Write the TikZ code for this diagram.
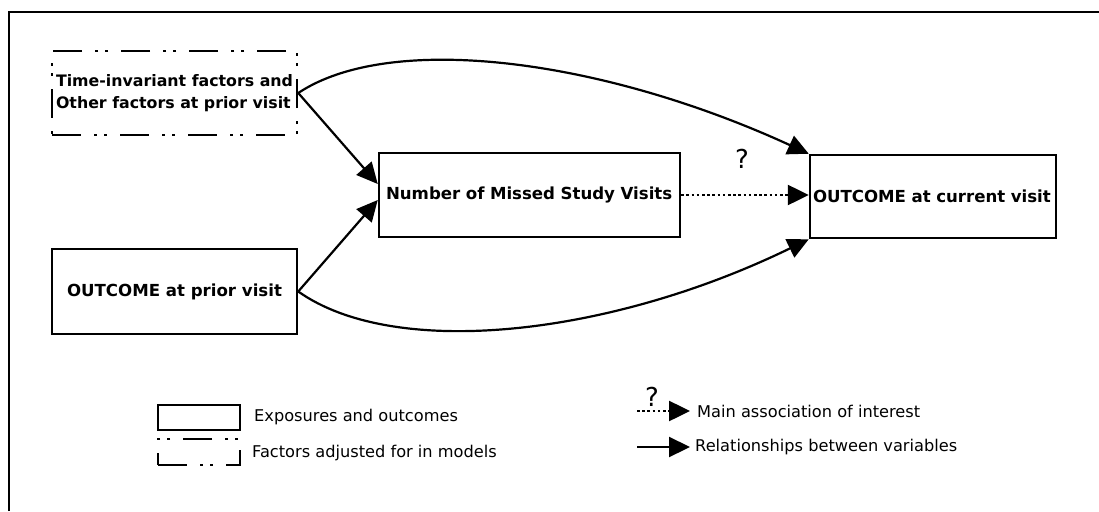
\documentclass[tikz,border=0pt]{standalone}
\usepackage{fontspec}
\setmainfont{DejaVu Sans}
\usetikzlibrary{arrows.meta}
\begin{document}
\begin{tikzpicture}[x=1pt,y=-1pt,
  box/.style={draw, line width=2.5pt, inner sep=0pt, font=\bfseries\fontsize{16.6}{22}\selectfont},
  dotdash/.style={dash pattern=on 29pt off 13pt on 3pt off 7pt on 3pt off 13pt},
  arr/.style={line width=2.2pt, -{Triangle[length=21pt,width=20pt]}},
  dotarr/.style={line width=2.5pt, dash pattern=on 2.5pt off 2.7pt, -{Triangle[length=21pt,width=20pt]}},
  legtext/.style={anchor=west, inner sep=0pt, font=\fontsize{16.2}{19}\selectfont},
  qmark/.style={font=\fontsize{26}{30}\selectfont, inner sep=0pt}]
\useasboundingbox (0,0) rectangle (1099,511);
% frame
\draw[line width=2.5pt] (9,511) -- (9,12) -- (1099,12);
% main boxes
\node[box, dotdash, minimum width=245pt, minimum height=84pt, align=left, font=\bfseries\fontsize{15.8}{22}\selectfont] (tif) at (174.5,93) {Time-invariant factors and\\Other factors at prior visit};
\node[box, minimum width=301pt, minimum height=84pt, text width=287pt, align=left] (nmv) at (529.5,195) {Number of Missed Study Visits};
\node[box, minimum width=246pt, minimum height=83pt, text width=240pt, align=left] (cur) at (933,196.5) {OUTCOME at current visit};
\node[box, minimum width=245pt, minimum height=85pt, align=center] (pov) at (174.5,291.5) {OUTCOME at prior visit};
% connectors
\draw[arr] (tif.east) -- ([yshift=11pt]nmv.west);
\draw[arr] (pov.east) -- ([yshift=-5pt]nmv.west);
\draw[arr] (tif.east) .. controls (390,32) and (600,58) .. (cur.north west);
\draw[arr] (pov.east) .. controls (395,360) and (610,336) .. (cur.south west);
\draw[dotarr] (nmv.east) -- (cur.west |- nmv.east);
\node[qmark] (q1) at (742,159) {?};
% legend
\node[draw, line width=2.5pt, minimum width=82pt, minimum height=25pt, inner sep=0pt] (lsolid) at (199,417.5) {};
\node[draw, line width=2.5pt, dotdash, minimum width=82pt, minimum height=26pt, inner sep=0pt] (ldash) at (199,452) {};
\node[legtext] (lt1) at (254,417) {Exposures and outcomes};
\node[legtext] (lt2) at (252,453) {Factors adjusted for in models};
\node[qmark] (q2) at (652,397) {?};
\coordinate (la1) at (637,411);
\coordinate (la1e) at (690,411);
\coordinate (la2) at (637,447);
\coordinate (la2e) at (690,447);
\draw[dotarr] (la1) -- (la1e);
\draw[arr] (la2) -- (la2e);
\node[legtext] (lt3) at (697,411) {Main association of interest};
\node[legtext] (lt4) at (695,447) {Relationships between variables};
\end{tikzpicture}
\end{document}
